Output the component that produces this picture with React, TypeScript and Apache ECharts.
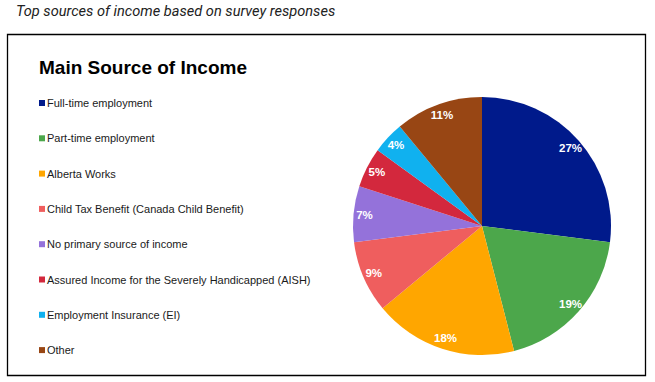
import React, { useEffect, useRef } from "react";
import * as echarts from "echarts";

const categories = [
  "Full-time employment",
  "Part-time employment",
  "Alberta Works",
  "Child Tax Benefit (Canada Child Benefit)",
  "No primary source of income",
  "Assured Income for the Severely Handicapped (AISH)",
  "Employment Insurance (EI)",
  "Other",
];
const values = [27, 19, 18, 9, 7, 5, 4, 11];
const colors = [
  "#001A8B",
  "#4CA74B",
  "#FFA600",
  "#EF5E5E",
  "#9472DA",
  "#D3283D",
  "#10B1EF",
  "#984614",
];

export default function App() {
  const ref = useRef<HTMLDivElement>(null);
  useEffect(() => {
    if (!ref.current) return;
    const chart = echarts.init(ref.current, null, { renderer: "svg" });
    const data = categories.map((name, i) => ({
      name,
      value: values[i],
      itemStyle: { color: colors[i] },
    }));
    chart.setOption({
      animation: false,
      backgroundColor: "#ffffff",
      color: colors,
      title: {
        text: "Main Source of Income",
        left: 39,
        top: 58,
        padding: 0,
        textStyle: {
          fontFamily: "Liberation Sans, Arial, sans-serif",
          fontSize: 19,
          fontWeight: "bold",
          color: "#000",
        },
      },
      legend: {
        orient: "vertical",
        left: 34,
        top: 91,
        itemWidth: 6,
        itemHeight: 6,
        itemGap: 21.3,
        icon: "rect",
        data: categories,
        selectedMode: false,
        textStyle: {
          fontFamily: "Liberation Sans, Arial, sans-serif",
          fontSize: 11,
          color: "#1a1a1a",
          lineHeight: 14,
          padding: [0, 0, 0, -3],
        },
      },
      graphic: [
        {
          type: "text",
          left: 16,
          top: 3,
          style: {
            text: "Top sources of income based on survey responses",
            fontFamily: "Roboto, sans-serif",
            fontStyle: "italic",
            fontSize: 14.6,
            fill: "#222",
          },
        },
        {
          type: "rect",
          shape: { x: 7.5, y: 34.5, width: 638, height: 341 },
          style: { fill: "none", stroke: "#000", lineWidth: 1.3 },
          silent: true,
        },
      ],
      series: [
        {
          type: "pie",
          center: [482, 226],
          radius: [0, 129],
          startAngle: 90,
          clockwise: true,
          label: { show: false },
          labelLine: { show: false },
          emphasis: { disabled: true },
          itemStyle: { borderWidth: 0 },
          data,
        },
        {
          type: "pie",
          center: [482, 226],
          radius: [102, 128],
          startAngle: 90,
          clockwise: true,
          silent: true,
          legendHoverLink: false,
          emphasis: { disabled: true },
          itemStyle: { color: "rgba(0,0,0,0)", borderWidth: 0 },
          label: {
            show: true,
            position: "inside",
            formatter: "{c}%",
            color: "#fff",
            fontFamily: "Liberation Sans, Arial, sans-serif",
            fontSize: 11.5,
            fontWeight: "bold",
          },
          labelLine: { show: false },
          data: categories.map((name, i) => ({
            name: name + " ",
            value: values[i],
          })),
        },
      ],
    });
    return () => chart.dispose();
  }, []);
  return (
    <div
      ref={ref}
      style={{ position: "fixed", left: 0, top: 0, width: 655, height: 382 }}
    />
  );
}
